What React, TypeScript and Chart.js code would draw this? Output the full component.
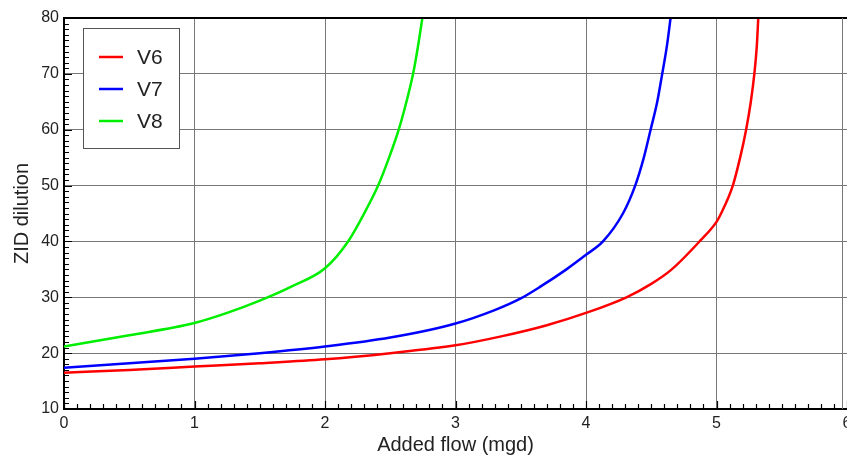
import React, { useEffect, useRef } from "react";
import { Chart, registerables } from "chart.js";

Chart.register(...registerables);

const seriesNames = ["V6", "V7", "V8"];
const seriesColors = ["#ff0000", "#0000ff", "#00ee00"];

const v6X = [0, 0.5, 1, 1.5, 2, 2.5, 3, 3.35, 3.7, 4, 4.31, 4.5, 4.657, 4.87, 5.0, 5.035, 5.125, 5.181, 5.227, 5.263, 5.29, 5.309, 5.32];
const v6Y = [16.5, 17.0, 17.6, 18.2, 18.9, 20.0, 21.4, 23.0, 25.0, 27.2, 30.0, 32.4, 35.0, 40.0, 43.5, 45, 50, 55, 60, 65, 70, 75, 80];

const v7X = [0, 0.5, 1, 1.5, 2, 2.5, 3, 3.3, 3.5, 3.65, 3.85, 4, 4.13, 4.283, 4.377, 4.443, 4.495, 4.546, 4.584, 4.62, 4.648];
const v7Y = [17.4, 18.2, 19.0, 20.0, 21.2, 22.8, 25.3, 27.7, 29.8, 31.9, 35.0, 37.6, 40, 45, 50, 55, 60, 65, 70, 75, 80];

const v8X = [0, 0.5, 1, 1.25, 1.5, 1.75, 2, 2.177, 2.3, 2.407, 2.491, 2.565, 2.624, 2.675, 2.713, 2.746];
const v8Y = [21.2, 23.2, 25.4, 27.2, 29.4, 32.0, 35.2, 40, 45, 50, 55, 60, 65, 70, 75, 80];

const xMin = 0, xMax = 6, xStep = 1, xMinorStep = 0.1;
const yMin = 10, yMax = 80, yStep = 10, yMinorStep = 1;

const xTitle = "Added flow (mgd)";
const yTitle = "ZID dilution";

const FONT = "'Liberation Sans', Arial, Helvetica, sans-serif";

const pts = (xs: number[], ys: number[]) => xs.map((x, i) => ({ x, y: ys[i] }));

const decorPlugin = {
  id: "decor",
  afterDraw(chart: any) {
    const ctx = chart.ctx;
    const { left, right, top, bottom } = chart.chartArea;
    const xs = chart.scales.x;
    const ys = chart.scales.y;
    ctx.save();
    // minor ticks
    ctx.strokeStyle = "#000";
    ctx.lineWidth = 1.2;
    ctx.beginPath();
    const nx = Math.round((xMax - xMin) / xMinorStep);
    for (let i = 0; i <= nx; i++) {
      const v = xMin + i * xMinorStep;
      const px = Math.round(xs.getPixelForValue(v)) + 0.5;
      const len = i % 10 === 0 ? 8 : 5;
      ctx.moveTo(px, bottom);
      ctx.lineTo(px, bottom - len);
    }
    const ny = Math.round((yMax - yMin) / yMinorStep);
    for (let i = 0; i <= ny; i++) {
      const v = yMin + i * yMinorStep;
      const py = Math.round(ys.getPixelForValue(v)) + 0.5;
      const len = i % 10 === 0 ? 8 : 5;
      ctx.moveTo(left, py);
      ctx.lineTo(left + len, py);
    }
    ctx.stroke();
    // top frame
    ctx.lineWidth = 2;
    ctx.beginPath();
    ctx.moveTo(left, top);
    ctx.lineTo(right, top);
    ctx.stroke();
    // right frame (thin grey)
    ctx.strokeStyle = "#777";
    ctx.lineWidth = 1;
    ctx.beginPath();
    ctx.moveTo(842.5, top);
    ctx.lineTo(842.5, bottom);
    ctx.stroke();

    // legend
    const bx = 83, by = 28, bw = 96, bh = 120;
    ctx.fillStyle = "#fff";
    ctx.fillRect(bx, by, bw, bh);
    ctx.strokeStyle = "#555";
    ctx.lineWidth = 1;
    ctx.strokeRect(bx + 0.5, by + 0.5, bw, bh);
    ctx.font = `21px ${FONT}`;
    ctx.textBaseline = "middle";
    ctx.textAlign = "left";
    chart.data.datasets.forEach((ds: any, i: number) => {
      const yy = 57 + i * 32;
      ctx.strokeStyle = ds.borderColor;
      ctx.lineWidth = 2.5;
      ctx.beginPath();
      ctx.moveTo(99, yy);
      ctx.lineTo(123, yy);
      ctx.stroke();
      ctx.fillStyle = "#222";
      ctx.fillText(ds.label, 137, yy + 1);
    });
    ctx.restore();
  },
};

export default function App() {
  const ref = useRef<HTMLCanvasElement>(null);
  useEffect(() => {
    document.body.style.margin = "0";
    const data = [pts(v6X, v6Y), pts(v7X, v7Y), pts(v8X, v8Y)];
    const chart = new Chart(ref.current!, {
      type: "line",
      data: {
        datasets: seriesNames.map((n, i) => ({
          label: n,
          data: data[i],
          borderColor: seriesColors[i],
          backgroundColor: seriesColors[i],
          borderWidth: 2.5,
          pointRadius: 0,
          fill: false,
          cubicInterpolationMode: "monotone" as const,
        })),
      },
      options: {
        responsive: false,
        animation: false,
        layout: { padding: { top: 18, right: 0, left: 0, bottom: 0 } },
        plugins: { legend: { display: false }, tooltip: { enabled: false } },
        scales: {
          x: {
            type: "linear",
            min: xMin,
            max: xMax,
            ticks: { stepSize: xStep, color: "#222", font: { family: FONT, size: 16 }, padding: 5, maxRotation: 0 },
            grid: { color: "#777", lineWidth: 1, drawTicks: false },
            border: { color: "#000", width: 2 },
            title: { display: true, text: xTitle, color: "#222", font: { family: FONT, size: 20 }, padding: { top: 0, bottom: 1 } },
            afterFit: (s: any) => { s.height = 49; s.paddingRight = 0; s.paddingLeft = 0; },
          },
          y: {
            type: "linear",
            min: yMin,
            max: yMax,
            ticks: { stepSize: yStep, color: "#222", font: { family: FONT, size: 16 }, padding: 5 },
            grid: { color: "#777", lineWidth: 1, drawTicks: false },
            border: { color: "#000", width: 2 },
            title: { display: true, text: yTitle, color: "#222", font: { family: FONT, size: 20 }, padding: { top: 10, bottom: 0 } },
            afterFit: (s: any) => { s.width = 64; s.paddingTop = 0; s.paddingBottom = 0; },
          },
        },
      },
      plugins: [decorPlugin],
    });
    return () => chart.destroy();
  }, []);
  return (
    <div style={{ width: 847, height: 458 }}>
      <canvas ref={ref} width={847} height={458} />
    </div>
  );
}
